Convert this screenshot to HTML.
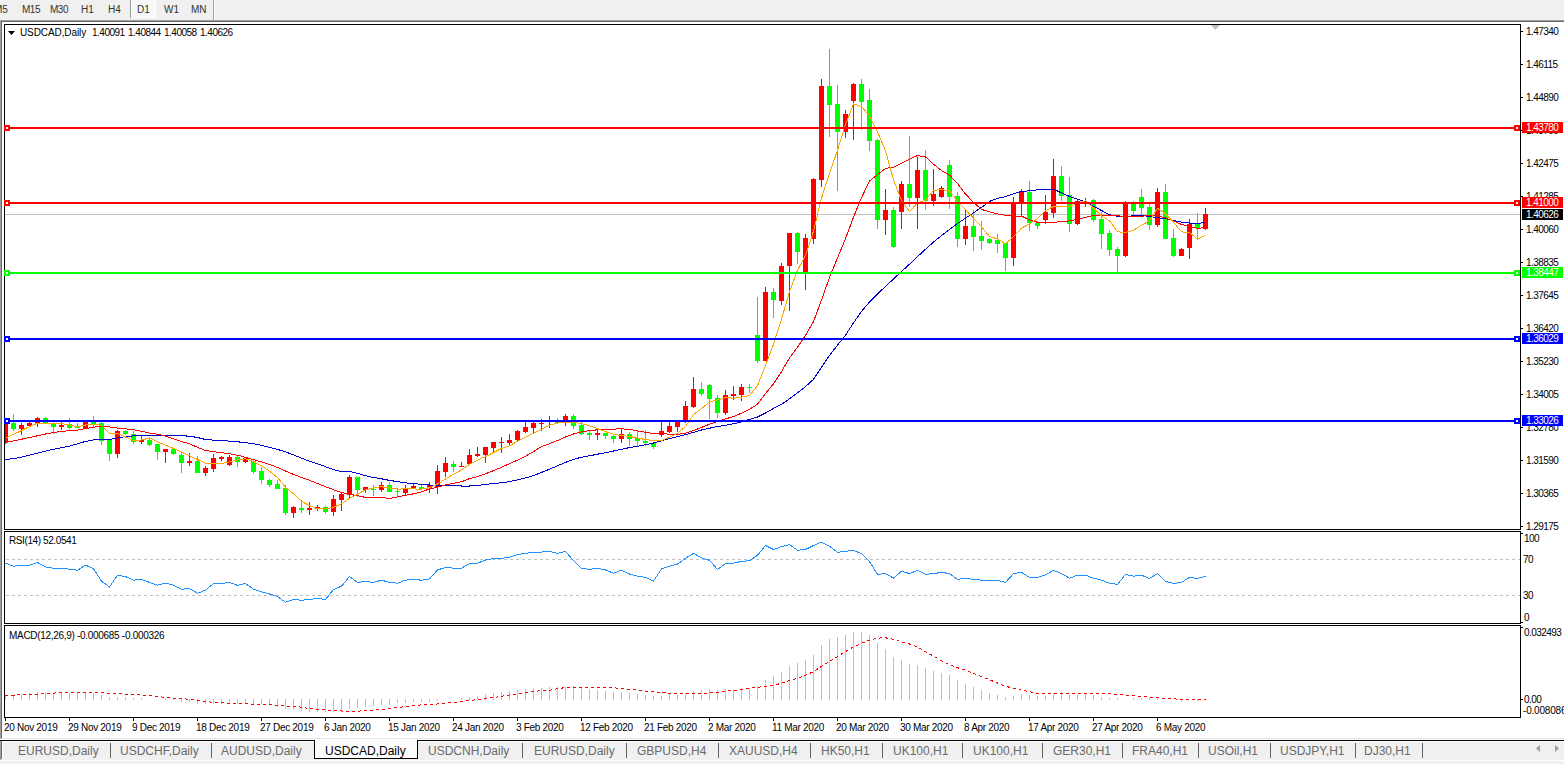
<!DOCTYPE html>
<html><head><meta charset="utf-8"><title>USDCAD,Daily</title><style>
html,body{margin:0;padding:0;width:1564px;height:764px;overflow:hidden;background:#fff;}
body{font-family:"Liberation Sans",sans-serif;}
#wrap{position:relative;width:1564px;height:764px;}
svg{position:absolute;left:0;top:0;}
.tb{position:absolute;top:0;height:20px;font-size:10px;letter-spacing:0;color:#333;line-height:20px;}
.tab{position:absolute;top:742px;height:18px;font-size:12px;color:#6a6a6a;line-height:18px;white-space:nowrap;}
</style></head><body><div id="wrap">

<svg width="1564" height="764" viewBox="0 0 1564 764" shape-rendering="crispEdges" font-family='"Liberation Sans", sans-serif'>
<rect x="0" y="0" width="1564" height="20" fill="#f0f0f0"/>
<defs><pattern id="chk" width="2" height="2" patternUnits="userSpaceOnUse"><rect width="2" height="2" fill="#f0f0f0"/><rect width="1" height="1" fill="#ffffff"/><rect x="1" y="1" width="1" height="1" fill="#ffffff"/></pattern></defs>
<rect x="131" y="0" width="24" height="18" fill="url(#chk)"/>
<rect x="130" y="0" width="1" height="18" fill="#a0a0a0"/>
<rect x="155" y="0" width="1" height="18" fill="#ffffff"/>
<rect x="131" y="17" width="25" height="1" fill="#ffffff"/>
<rect x="213" y="0" width="1" height="20" fill="#a0a0a0"/>
<rect x="214" y="0" width="1" height="20" fill="#ffffff"/>
<rect x="0" y="20" width="1564" height="1" fill="#a0a0a0"/>
<rect x="1" y="21" width="1563" height="1" fill="#696969"/>
<rect x="0" y="20" width="1" height="719" fill="#a0a0a0"/>
<rect x="1" y="21" width="1" height="717" fill="#696969"/>
<rect x="1" y="738" width="1563" height="1" fill="#e3e3e3"/>
<rect x="0" y="740" width="1564" height="24" fill="#f0f0f0"/>
<rect x="0" y="740" width="1564" height="1" fill="#000"/>
<rect x="2" y="741" width="1562" height="1" fill="#ffffff"/>
<rect x="0" y="760" width="1564" height="1" fill="#ffffff"/>
<rect x="0" y="741" width="1" height="19" fill="#a0a0a0"/>
<rect x="1" y="741" width="1" height="18" fill="#696969"/>
<rect x="2" y="741" width="1" height="18" fill="#ffffff"/>
<rect x="314" y="740" width="104" height="19" fill="#000"/>
<rect x="315" y="740" width="102" height="18" fill="#fdfdfd"/>
<rect x="110" y="743" width="1" height="15" fill="#646464"/>
<rect x="211" y="743" width="1" height="15" fill="#646464"/>
<rect x="522" y="743" width="1" height="15" fill="#646464"/>
<rect x="626" y="743" width="1" height="15" fill="#646464"/>
<rect x="718" y="743" width="1" height="15" fill="#646464"/>
<rect x="810" y="743" width="1" height="15" fill="#646464"/>
<rect x="882" y="743" width="1" height="15" fill="#646464"/>
<rect x="962" y="743" width="1" height="15" fill="#646464"/>
<rect x="1042" y="743" width="1" height="15" fill="#646464"/>
<rect x="1122" y="743" width="1" height="15" fill="#646464"/>
<rect x="1198" y="743" width="1" height="15" fill="#646464"/>
<rect x="1270" y="743" width="1" height="15" fill="#646464"/>
<rect x="1355" y="743" width="1" height="15" fill="#646464"/>
<rect x="1422" y="743" width="1" height="15" fill="#646464"/>
<path d="M1540,745 L1536,748.5 L1540,752 Z" fill="#a0a0a0" shape-rendering="auto"/>
<path d="M1555,745 L1559,748.5 L1555,752 Z" fill="#a0a0a0" shape-rendering="auto"/>
<rect x="4" y="24" width="1517" height="1" fill="#000"/>
<rect x="4" y="529" width="1517" height="1" fill="#000"/>
<rect x="4" y="24" width="1" height="506" fill="#000"/>
<rect x="1520" y="24" width="1" height="506" fill="#000"/>
<rect x="4" y="531" width="1517" height="1" fill="#000"/>
<rect x="4" y="623" width="1517" height="1" fill="#000"/>
<rect x="4" y="531" width="1" height="93" fill="#000"/>
<rect x="1520" y="531" width="1" height="93" fill="#000"/>
<rect x="4" y="625" width="1517" height="1" fill="#000"/>
<rect x="4" y="717" width="1517" height="1" fill="#000"/>
<rect x="4" y="625" width="1" height="93" fill="#000"/>
<rect x="1520" y="625" width="1" height="93" fill="#000"/>
<defs><clipPath id="cm"><rect x="5" y="25" width="1515" height="504"/></clipPath><clipPath id="cr"><rect x="5" y="532" width="1515" height="91"/></clipPath><clipPath id="cd"><rect x="5" y="626" width="1515" height="91"/></clipPath></defs>
<path d="M1211,25 L1220,25 L1215.5,30 Z" fill="#c0c0c0" shape-rendering="auto"/>
<rect x="5" y="214" width="1515" height="1" fill="#c0c0c0"/>
<g clip-path="url(#cm)">
<rect x="5" y="420" width="1" height="24" fill="#ff0000"/>
<rect x="3" y="422" width="5" height="21" fill="#ff0000"/>
<rect x="13" y="414" width="1" height="17" fill="#00ff00"/>
<rect x="11" y="423" width="5" height="6" fill="#00ff00"/>
<rect x="21" y="423" width="1" height="12" fill="#ff0000"/>
<rect x="19" y="425" width="5" height="4" fill="#ff0000"/>
<rect x="29" y="422" width="1" height="4" fill="#ff0000"/>
<rect x="27" y="423" width="5" height="3" fill="#ff0000"/>
<rect x="37" y="417" width="1" height="10" fill="#ff0000"/>
<rect x="35" y="418" width="5" height="6" fill="#ff0000"/>
<rect x="45" y="417" width="1" height="7" fill="#00ff00"/>
<rect x="43" y="418" width="5" height="6" fill="#00ff00"/>
<rect x="53" y="422" width="1" height="12" fill="#00ff00"/>
<rect x="51" y="424" width="5" height="3" fill="#00ff00"/>
<rect x="61" y="422" width="1" height="8" fill="#ff0000"/>
<rect x="59" y="425" width="5" height="2" fill="#ff0000"/>
<rect x="69" y="418" width="1" height="11" fill="#00ff00"/>
<rect x="67" y="424" width="5" height="4" fill="#00ff00"/>
<rect x="77" y="423" width="1" height="5" fill="#00ff00"/>
<rect x="75" y="426" width="5" height="2" fill="#00ff00"/>
<rect x="85" y="421" width="1" height="8" fill="#ff0000"/>
<rect x="83" y="422" width="5" height="7" fill="#ff0000"/>
<rect x="93" y="416" width="1" height="11" fill="#00ff00"/>
<rect x="91" y="422" width="5" height="2" fill="#00ff00"/>
<rect x="101" y="422" width="1" height="23" fill="#00ff00"/>
<rect x="99" y="423" width="5" height="18" fill="#00ff00"/>
<rect x="109" y="440" width="1" height="21" fill="#00ff00"/>
<rect x="107" y="440" width="5" height="14" fill="#00ff00"/>
<rect x="117" y="430" width="1" height="28" fill="#ff0000"/>
<rect x="115" y="431" width="5" height="23" fill="#ff0000"/>
<rect x="125" y="430" width="1" height="5" fill="#00ff00"/>
<rect x="123" y="431" width="5" height="3" fill="#00ff00"/>
<rect x="133" y="431" width="1" height="13" fill="#00ff00"/>
<rect x="131" y="434" width="5" height="8" fill="#00ff00"/>
<rect x="141" y="436" width="1" height="8" fill="#ff0000"/>
<rect x="139" y="440" width="5" height="2" fill="#ff0000"/>
<rect x="149" y="438" width="1" height="8" fill="#00ff00"/>
<rect x="147" y="440" width="5" height="5" fill="#00ff00"/>
<rect x="157" y="444" width="1" height="16" fill="#00ff00"/>
<rect x="155" y="444" width="5" height="8" fill="#00ff00"/>
<rect x="165" y="449" width="1" height="14" fill="#ff0000"/>
<rect x="163" y="449" width="5" height="3" fill="#ff0000"/>
<rect x="173" y="449" width="1" height="6" fill="#00ff00"/>
<rect x="171" y="449" width="5" height="5" fill="#00ff00"/>
<rect x="181" y="453" width="1" height="20" fill="#00ff00"/>
<rect x="179" y="455" width="5" height="8" fill="#00ff00"/>
<rect x="189" y="453" width="1" height="13" fill="#ff0000"/>
<rect x="187" y="461" width="5" height="2" fill="#ff0000"/>
<rect x="197" y="456" width="1" height="17" fill="#00ff00"/>
<rect x="195" y="461" width="5" height="12" fill="#00ff00"/>
<rect x="205" y="466" width="1" height="10" fill="#ff0000"/>
<rect x="203" y="468" width="5" height="5" fill="#ff0000"/>
<rect x="213" y="454" width="1" height="18" fill="#ff0000"/>
<rect x="211" y="458" width="5" height="11" fill="#ff0000"/>
<rect x="221" y="456" width="1" height="5" fill="#ff0000"/>
<rect x="219" y="457" width="5" height="2" fill="#ff0000"/>
<rect x="229" y="455" width="1" height="11" fill="#ff0000"/>
<rect x="227" y="457" width="5" height="8" fill="#ff0000"/>
<rect x="237" y="456" width="1" height="11" fill="#00ff00"/>
<rect x="235" y="457" width="5" height="5" fill="#00ff00"/>
<rect x="245" y="458" width="1" height="5" fill="#ff0000"/>
<rect x="243" y="458" width="5" height="4" fill="#ff0000"/>
<rect x="253" y="460" width="1" height="14" fill="#00ff00"/>
<rect x="251" y="461" width="5" height="11" fill="#00ff00"/>
<rect x="261" y="467" width="1" height="17" fill="#00ff00"/>
<rect x="259" y="471" width="5" height="9" fill="#00ff00"/>
<rect x="269" y="479" width="1" height="8" fill="#00ff00"/>
<rect x="267" y="480" width="5" height="5" fill="#00ff00"/>
<rect x="277" y="480" width="1" height="9" fill="#00ff00"/>
<rect x="275" y="484" width="5" height="5" fill="#00ff00"/>
<rect x="285" y="485" width="1" height="30" fill="#00ff00"/>
<rect x="283" y="488" width="5" height="25" fill="#00ff00"/>
<rect x="293" y="506" width="1" height="12" fill="#ff0000"/>
<rect x="291" y="507" width="5" height="6" fill="#ff0000"/>
<rect x="301" y="500" width="1" height="13" fill="#00ff00"/>
<rect x="299" y="508" width="5" height="2" fill="#00ff00"/>
<rect x="309" y="502" width="1" height="13" fill="#ff0000"/>
<rect x="307" y="508" width="5" height="2" fill="#ff0000"/>
<rect x="317" y="505" width="1" height="6" fill="#ff0000"/>
<rect x="315" y="507" width="5" height="2" fill="#ff0000"/>
<rect x="325" y="506" width="1" height="8" fill="#00ff00"/>
<rect x="323" y="507" width="5" height="5" fill="#00ff00"/>
<rect x="333" y="495" width="1" height="21" fill="#ff0000"/>
<rect x="331" y="499" width="5" height="13" fill="#ff0000"/>
<rect x="341" y="493" width="1" height="18" fill="#ff0000"/>
<rect x="339" y="494" width="5" height="6" fill="#ff0000"/>
<rect x="349" y="475" width="1" height="23" fill="#ff0000"/>
<rect x="347" y="477" width="5" height="18" fill="#ff0000"/>
<rect x="357" y="477" width="1" height="20" fill="#00ff00"/>
<rect x="355" y="477" width="5" height="13" fill="#00ff00"/>
<rect x="365" y="487" width="1" height="6" fill="#ff0000"/>
<rect x="363" y="487" width="5" height="3" fill="#ff0000"/>
<rect x="373" y="485" width="1" height="11" fill="#00ff00"/>
<rect x="371" y="489" width="5" height="1" fill="#00ff00"/>
<rect x="381" y="482" width="1" height="10" fill="#ff0000"/>
<rect x="379" y="485" width="5" height="5" fill="#ff0000"/>
<rect x="389" y="482" width="1" height="10" fill="#00ff00"/>
<rect x="387" y="485" width="5" height="7" fill="#00ff00"/>
<rect x="397" y="488" width="1" height="8" fill="#00ff00"/>
<rect x="395" y="491" width="5" height="1" fill="#00ff00"/>
<rect x="405" y="485" width="1" height="10" fill="#ff0000"/>
<rect x="403" y="488" width="5" height="5" fill="#ff0000"/>
<rect x="413" y="484" width="1" height="4" fill="#ff0000"/>
<rect x="411" y="486" width="5" height="2" fill="#ff0000"/>
<rect x="421" y="485" width="1" height="4" fill="#00ff00"/>
<rect x="419" y="487" width="5" height="2" fill="#00ff00"/>
<rect x="429" y="482" width="1" height="11" fill="#ff0000"/>
<rect x="427" y="485" width="5" height="3" fill="#ff0000"/>
<rect x="437" y="465" width="1" height="29" fill="#ff0000"/>
<rect x="435" y="471" width="5" height="16" fill="#ff0000"/>
<rect x="445" y="457" width="1" height="20" fill="#ff0000"/>
<rect x="443" y="463" width="5" height="9" fill="#ff0000"/>
<rect x="453" y="461" width="1" height="11" fill="#00ff00"/>
<rect x="451" y="464" width="5" height="3" fill="#00ff00"/>
<rect x="461" y="462" width="1" height="5" fill="#ff0000"/>
<rect x="459" y="466" width="5" height="1" fill="#ff0000"/>
<rect x="469" y="449" width="1" height="15" fill="#ff0000"/>
<rect x="467" y="455" width="5" height="9" fill="#ff0000"/>
<rect x="477" y="447" width="1" height="10" fill="#ff0000"/>
<rect x="475" y="454" width="5" height="2" fill="#ff0000"/>
<rect x="485" y="447" width="1" height="16" fill="#ff0000"/>
<rect x="483" y="447" width="5" height="8" fill="#ff0000"/>
<rect x="493" y="442" width="1" height="10" fill="#ff0000"/>
<rect x="491" y="442" width="5" height="6" fill="#ff0000"/>
<rect x="501" y="437" width="1" height="16" fill="#ff0000"/>
<rect x="499" y="442" width="5" height="1" fill="#ff0000"/>
<rect x="509" y="434" width="1" height="11" fill="#ff0000"/>
<rect x="507" y="440" width="5" height="3" fill="#ff0000"/>
<rect x="517" y="430" width="1" height="11" fill="#ff0000"/>
<rect x="515" y="431" width="5" height="9" fill="#ff0000"/>
<rect x="525" y="422" width="1" height="11" fill="#ff0000"/>
<rect x="523" y="427" width="5" height="5" fill="#ff0000"/>
<rect x="533" y="422" width="1" height="11" fill="#ff0000"/>
<rect x="531" y="423" width="5" height="5" fill="#ff0000"/>
<rect x="541" y="419" width="1" height="12" fill="#ff0000"/>
<rect x="539" y="423" width="5" height="1" fill="#ff0000"/>
<rect x="549" y="416" width="1" height="12" fill="#ff0000"/>
<rect x="547" y="421" width="5" height="1" fill="#ff0000"/>
<rect x="557" y="418" width="1" height="5" fill="#00ff00"/>
<rect x="555" y="420" width="5" height="3" fill="#00ff00"/>
<rect x="565" y="414" width="1" height="12" fill="#ff0000"/>
<rect x="563" y="416" width="5" height="5" fill="#ff0000"/>
<rect x="573" y="414" width="1" height="15" fill="#00ff00"/>
<rect x="571" y="416" width="5" height="10" fill="#00ff00"/>
<rect x="581" y="422" width="1" height="13" fill="#00ff00"/>
<rect x="579" y="425" width="5" height="9" fill="#00ff00"/>
<rect x="589" y="431" width="1" height="9" fill="#00ff00"/>
<rect x="587" y="433" width="5" height="2" fill="#00ff00"/>
<rect x="597" y="429" width="1" height="11" fill="#ff0000"/>
<rect x="595" y="433" width="5" height="2" fill="#ff0000"/>
<rect x="605" y="433" width="1" height="6" fill="#00ff00"/>
<rect x="603" y="433" width="5" height="3" fill="#00ff00"/>
<rect x="613" y="435" width="1" height="8" fill="#00ff00"/>
<rect x="611" y="436" width="5" height="3" fill="#00ff00"/>
<rect x="621" y="428" width="1" height="15" fill="#ff0000"/>
<rect x="619" y="434" width="5" height="5" fill="#ff0000"/>
<rect x="629" y="432" width="1" height="14" fill="#00ff00"/>
<rect x="627" y="434" width="5" height="5" fill="#00ff00"/>
<rect x="637" y="431" width="1" height="16" fill="#00ff00"/>
<rect x="635" y="438" width="5" height="3" fill="#00ff00"/>
<rect x="645" y="430" width="1" height="16" fill="#00ff00"/>
<rect x="643" y="441" width="5" height="2" fill="#00ff00"/>
<rect x="653" y="443" width="1" height="6" fill="#00ff00"/>
<rect x="651" y="443" width="5" height="4" fill="#00ff00"/>
<rect x="661" y="422" width="1" height="15" fill="#ff0000"/>
<rect x="659" y="431" width="5" height="4" fill="#ff0000"/>
<rect x="669" y="422" width="1" height="11" fill="#ff0000"/>
<rect x="667" y="426" width="5" height="6" fill="#ff0000"/>
<rect x="677" y="422" width="1" height="10" fill="#ff0000"/>
<rect x="675" y="422" width="5" height="5" fill="#ff0000"/>
<rect x="685" y="401" width="1" height="22" fill="#ff0000"/>
<rect x="683" y="406" width="5" height="15" fill="#ff0000"/>
<rect x="693" y="377" width="1" height="31" fill="#ff0000"/>
<rect x="691" y="389" width="5" height="18" fill="#ff0000"/>
<rect x="701" y="382" width="1" height="14" fill="#00ff00"/>
<rect x="699" y="389" width="5" height="5" fill="#00ff00"/>
<rect x="709" y="384" width="1" height="35" fill="#00ff00"/>
<rect x="707" y="385" width="5" height="14" fill="#00ff00"/>
<rect x="717" y="395" width="1" height="23" fill="#00ff00"/>
<rect x="715" y="398" width="5" height="15" fill="#00ff00"/>
<rect x="725" y="390" width="1" height="25" fill="#ff0000"/>
<rect x="723" y="395" width="5" height="18" fill="#ff0000"/>
<rect x="733" y="386" width="1" height="14" fill="#ff0000"/>
<rect x="731" y="394" width="5" height="2" fill="#ff0000"/>
<rect x="741" y="384" width="1" height="17" fill="#ff0000"/>
<rect x="739" y="387" width="5" height="8" fill="#ff0000"/>
<rect x="749" y="384" width="1" height="9" fill="#00ff00"/>
<rect x="747" y="387" width="5" height="1" fill="#00ff00"/>
<rect x="757" y="297" width="1" height="66" fill="#00ff00"/>
<rect x="755" y="335" width="5" height="26" fill="#00ff00"/>
<rect x="765" y="287" width="1" height="74" fill="#ff0000"/>
<rect x="763" y="292" width="5" height="69" fill="#ff0000"/>
<rect x="773" y="288" width="1" height="30" fill="#00ff00"/>
<rect x="771" y="292" width="5" height="8" fill="#00ff00"/>
<rect x="781" y="263" width="1" height="42" fill="#ff0000"/>
<rect x="779" y="266" width="5" height="35" fill="#ff0000"/>
<rect x="789" y="233" width="1" height="78" fill="#ff0000"/>
<rect x="787" y="233" width="5" height="33" fill="#ff0000"/>
<rect x="797" y="232" width="1" height="32" fill="#00ff00"/>
<rect x="795" y="233" width="5" height="19" fill="#00ff00"/>
<rect x="805" y="234" width="1" height="56" fill="#ff0000"/>
<rect x="803" y="238" width="5" height="34" fill="#ff0000"/>
<rect x="813" y="178" width="1" height="66" fill="#ff0000"/>
<rect x="811" y="179" width="5" height="60" fill="#ff0000"/>
<rect x="821" y="79" width="1" height="108" fill="#ff0000"/>
<rect x="819" y="86" width="5" height="94" fill="#ff0000"/>
<rect x="829" y="49" width="1" height="88" fill="#00ff00"/>
<rect x="827" y="86" width="5" height="19" fill="#00ff00"/>
<rect x="837" y="85" width="1" height="106" fill="#00ff00"/>
<rect x="835" y="104" width="5" height="28" fill="#00ff00"/>
<rect x="845" y="110" width="1" height="28" fill="#ff0000"/>
<rect x="843" y="114" width="5" height="18" fill="#ff0000"/>
<rect x="853" y="83" width="1" height="57" fill="#ff0000"/>
<rect x="851" y="84" width="5" height="17" fill="#ff0000"/>
<rect x="861" y="79" width="1" height="51" fill="#00ff00"/>
<rect x="859" y="84" width="5" height="18" fill="#00ff00"/>
<rect x="869" y="89" width="1" height="62" fill="#00ff00"/>
<rect x="867" y="100" width="5" height="41" fill="#00ff00"/>
<rect x="877" y="139" width="1" height="90" fill="#00ff00"/>
<rect x="875" y="140" width="5" height="80" fill="#00ff00"/>
<rect x="885" y="189" width="1" height="46" fill="#ff0000"/>
<rect x="883" y="210" width="5" height="10" fill="#ff0000"/>
<rect x="893" y="207" width="1" height="41" fill="#00ff00"/>
<rect x="891" y="210" width="5" height="37" fill="#00ff00"/>
<rect x="901" y="181" width="1" height="48" fill="#ff0000"/>
<rect x="899" y="184" width="5" height="28" fill="#ff0000"/>
<rect x="909" y="136" width="1" height="71" fill="#00ff00"/>
<rect x="907" y="184" width="5" height="14" fill="#00ff00"/>
<rect x="917" y="157" width="1" height="72" fill="#ff0000"/>
<rect x="915" y="170" width="5" height="28" fill="#ff0000"/>
<rect x="925" y="150" width="1" height="60" fill="#00ff00"/>
<rect x="923" y="170" width="5" height="31" fill="#00ff00"/>
<rect x="933" y="169" width="1" height="37" fill="#ff0000"/>
<rect x="931" y="194" width="5" height="7" fill="#ff0000"/>
<rect x="941" y="186" width="1" height="12" fill="#ff0000"/>
<rect x="939" y="188" width="5" height="9" fill="#ff0000"/>
<rect x="949" y="160" width="1" height="49" fill="#00ff00"/>
<rect x="947" y="165" width="5" height="32" fill="#00ff00"/>
<rect x="957" y="192" width="1" height="55" fill="#00ff00"/>
<rect x="955" y="196" width="5" height="43" fill="#00ff00"/>
<rect x="965" y="210" width="1" height="35" fill="#ff0000"/>
<rect x="963" y="226" width="5" height="13" fill="#ff0000"/>
<rect x="973" y="210" width="1" height="41" fill="#00ff00"/>
<rect x="971" y="226" width="5" height="11" fill="#00ff00"/>
<rect x="981" y="221" width="1" height="29" fill="#00ff00"/>
<rect x="979" y="236" width="5" height="5" fill="#00ff00"/>
<rect x="989" y="238" width="1" height="6" fill="#00ff00"/>
<rect x="987" y="239" width="5" height="4" fill="#00ff00"/>
<rect x="997" y="234" width="1" height="19" fill="#00ff00"/>
<rect x="995" y="240" width="5" height="4" fill="#00ff00"/>
<rect x="1005" y="243" width="1" height="28" fill="#00ff00"/>
<rect x="1003" y="243" width="5" height="15" fill="#00ff00"/>
<rect x="1013" y="197" width="1" height="69" fill="#ff0000"/>
<rect x="1011" y="203" width="5" height="55" fill="#ff0000"/>
<rect x="1021" y="189" width="1" height="28" fill="#ff0000"/>
<rect x="1019" y="192" width="5" height="10" fill="#ff0000"/>
<rect x="1029" y="181" width="1" height="50" fill="#00ff00"/>
<rect x="1027" y="192" width="5" height="31" fill="#00ff00"/>
<rect x="1037" y="221" width="1" height="8" fill="#00ff00"/>
<rect x="1035" y="223" width="5" height="3" fill="#00ff00"/>
<rect x="1045" y="195" width="1" height="29" fill="#ff0000"/>
<rect x="1043" y="212" width="5" height="8" fill="#ff0000"/>
<rect x="1053" y="159" width="1" height="59" fill="#ff0000"/>
<rect x="1051" y="176" width="5" height="37" fill="#ff0000"/>
<rect x="1061" y="166" width="1" height="35" fill="#00ff00"/>
<rect x="1059" y="176" width="5" height="20" fill="#00ff00"/>
<rect x="1069" y="177" width="1" height="55" fill="#00ff00"/>
<rect x="1067" y="195" width="5" height="29" fill="#00ff00"/>
<rect x="1077" y="200" width="1" height="25" fill="#ff0000"/>
<rect x="1075" y="201" width="5" height="23" fill="#ff0000"/>
<rect x="1085" y="198" width="1" height="9" fill="#ff0000"/>
<rect x="1083" y="202" width="5" height="2" fill="#ff0000"/>
<rect x="1093" y="199" width="1" height="23" fill="#00ff00"/>
<rect x="1091" y="200" width="5" height="20" fill="#00ff00"/>
<rect x="1101" y="212" width="1" height="37" fill="#00ff00"/>
<rect x="1099" y="219" width="5" height="15" fill="#00ff00"/>
<rect x="1109" y="230" width="1" height="26" fill="#00ff00"/>
<rect x="1107" y="233" width="5" height="17" fill="#00ff00"/>
<rect x="1117" y="247" width="1" height="25" fill="#00ff00"/>
<rect x="1115" y="249" width="5" height="7" fill="#00ff00"/>
<rect x="1125" y="201" width="1" height="56" fill="#ff0000"/>
<rect x="1123" y="203" width="5" height="53" fill="#ff0000"/>
<rect x="1133" y="201" width="1" height="14" fill="#00ff00"/>
<rect x="1131" y="204" width="5" height="7" fill="#00ff00"/>
<rect x="1141" y="189" width="1" height="29" fill="#00ff00"/>
<rect x="1139" y="197" width="5" height="11" fill="#00ff00"/>
<rect x="1149" y="204" width="1" height="26" fill="#00ff00"/>
<rect x="1147" y="207" width="5" height="18" fill="#00ff00"/>
<rect x="1157" y="188" width="1" height="39" fill="#ff0000"/>
<rect x="1155" y="192" width="5" height="33" fill="#ff0000"/>
<rect x="1165" y="184" width="1" height="55" fill="#00ff00"/>
<rect x="1163" y="192" width="5" height="47" fill="#00ff00"/>
<rect x="1173" y="229" width="1" height="28" fill="#00ff00"/>
<rect x="1171" y="238" width="5" height="18" fill="#00ff00"/>
<rect x="1181" y="248" width="1" height="8" fill="#ff0000"/>
<rect x="1179" y="249" width="5" height="7" fill="#ff0000"/>
<rect x="1189" y="219" width="1" height="40" fill="#ff0000"/>
<rect x="1187" y="224" width="5" height="24" fill="#ff0000"/>
<rect x="1197" y="213" width="1" height="26" fill="#00ff00"/>
<rect x="1195" y="224" width="5" height="4" fill="#00ff00"/>
<rect x="1205" y="208" width="1" height="22" fill="#ff0000"/>
<rect x="1203" y="214" width="5" height="15" fill="#ff0000"/>
</g>
<g clip-path="url(#cm)">
<polyline points="5.5,459.5 13.5,458.7 21.5,457.1 29.5,455.1 37.5,453.1 45.5,451.1 53.5,449.3 61.5,447.7 69.5,446.1 77.5,443.8 85.5,441.4 93.5,439.9 101.5,439.7 109.5,439.5 117.5,438.0 125.5,436.5 133.5,435.9 141.5,435.5 149.5,435.4 157.5,435.3 165.5,435.4 173.5,435.5 181.5,435.7 189.5,436.2 197.5,437.5 205.5,439.5 213.5,440.1 221.5,440.6 229.5,441.1 237.5,441.8 245.5,442.6 253.5,443.7 261.5,445.4 269.5,447.4 277.5,449.4 285.5,451.9 293.5,454.9 301.5,458.1 309.5,461.3 317.5,463.8 325.5,466.7 333.5,469.6 341.5,471.5 349.5,471.5 357.5,473.4 365.5,475.6 373.5,477.5 381.5,478.8 389.5,480.4 397.5,481.6 405.5,482.8 413.5,483.7 421.5,484.3 429.5,485.0 437.5,485.0 445.5,485.0 453.5,485.7 461.5,486.0 469.5,486.0 477.5,485.4 485.5,484.4 493.5,483.6 501.5,482.7 509.5,481.7 517.5,479.8 525.5,478.0 533.5,475.6 541.5,472.4 549.5,469.2 557.5,465.8 565.5,462.4 573.5,459.4 581.5,457.2 589.5,455.8 597.5,454.2 605.5,452.7 613.5,451.0 621.5,449.3 629.5,447.6 637.5,446.2 645.5,444.8 653.5,443.0 661.5,440.8 669.5,438.6 677.5,436.6 685.5,434.6 693.5,432.4 701.5,430.0 709.5,428.2 717.5,426.6 725.5,425.2 733.5,423.8 741.5,421.8 749.5,419.4 757.5,417.0 765.5,413.0 773.5,408.4 781.5,404.4 789.5,398.9 797.5,392.8 805.5,386.6 813.5,379.4 821.5,367.3 829.5,355.4 837.5,345.2 845.5,335.2 853.5,322.9 861.5,311.3 869.5,302.1 877.5,293.8 885.5,286.5 893.5,279.0 901.5,271.5 909.5,264.2 917.5,256.7 925.5,249.2 933.5,242.1 941.5,235.6 949.5,229.4 957.5,223.5 965.5,218.2 973.5,212.8 981.5,207.4 989.5,201.4 997.5,198.4 1005.5,196.6 1013.5,193.9 1021.5,191.4 1029.5,190.8 1037.5,189.8 1045.5,189.2 1053.5,189.2 1061.5,192.9 1069.5,196.4 1077.5,199.2 1085.5,201.8 1093.5,206.2 1101.5,210.5 1109.5,214.7 1117.5,216.4 1125.5,216.2 1133.5,215.9 1141.5,215.6 1149.5,216.4 1157.5,217.8 1165.5,218.6 1173.5,220.6 1181.5,222.1 1189.5,223.1 1197.5,223.4 1205.5,222.5" fill="none" stroke="#0000cd" stroke-width="1" />
<polyline points="5.5,442.5 13.5,440.9 21.5,439.2 29.5,437.6 37.5,435.8 45.5,434.0 53.5,432.5 61.5,431.5 69.5,430.7 77.5,430.2 85.5,428.6 93.5,427.1 101.5,426.6 109.5,427.0 117.5,428.1 125.5,428.8 133.5,429.7 141.5,431.3 149.5,433.1 157.5,434.2 165.5,436.1 173.5,438.7 181.5,441.4 189.5,443.9 197.5,447.2 205.5,450.6 213.5,451.6 221.5,452.7 229.5,453.8 237.5,455.2 245.5,457.3 253.5,459.6 261.5,461.9 269.5,464.4 277.5,467.5 285.5,471.0 293.5,474.4 301.5,477.5 309.5,480.3 317.5,483.5 325.5,486.7 333.5,489.7 341.5,492.4 349.5,494.4 357.5,495.6 365.5,497.5 373.5,497.5 381.5,497.5 389.5,498.4 397.5,497.0 405.5,495.4 413.5,493.8 421.5,491.8 429.5,488.9 437.5,487.2 445.5,485.0 453.5,483.2 461.5,481.8 469.5,478.6 477.5,476.6 485.5,473.8 493.5,470.6 501.5,467.3 509.5,463.7 517.5,460.1 525.5,456.2 533.5,451.6 541.5,446.5 549.5,443.7 557.5,440.5 565.5,437.0 573.5,434.0 581.5,431.9 589.5,430.6 597.5,429.8 605.5,429.5 613.5,429.1 621.5,428.8 629.5,429.4 637.5,430.9 645.5,432.2 653.5,433.6 661.5,433.8 669.5,434.1 677.5,434.4 685.5,433.1 693.5,430.6 701.5,427.4 709.5,424.2 717.5,421.4 725.5,418.9 733.5,416.6 741.5,413.2 749.5,409.2 757.5,404.3 765.5,393.4 773.5,383.8 781.5,371.6 789.5,357.9 797.5,347.2 805.5,335.4 813.5,321.6 821.5,300.1 829.5,277.4 837.5,258.0 845.5,238.7 853.5,217.1 861.5,197.8 869.5,181.0 877.5,174.6 885.5,168.4 893.5,167.2 901.5,163.2 909.5,159.2 917.5,155.6 925.5,156.9 933.5,164.2 941.5,170.6 949.5,175.1 957.5,183.5 965.5,194.0 973.5,202.5 981.5,209.4 989.5,211.8 997.5,213.9 1005.5,215.3 1013.5,216.3 1021.5,216.0 1029.5,219.9 1037.5,222.3 1045.5,223.1 1053.5,222.3 1061.5,221.7 1069.5,220.8 1077.5,219.4 1085.5,217.4 1093.5,215.5 1101.5,215.5 1109.5,215.5 1117.5,215.9 1125.5,216.3 1133.5,216.5 1141.5,216.2 1149.5,215.5 1157.5,215.9 1165.5,217.9 1173.5,221.1 1181.5,224.4 1189.5,226.7 1197.5,228.4 1205.5,227.5" fill="none" stroke="#ff0000" stroke-width="1" />
<polyline points="5.5,438.3 13.5,434.4 21.5,430.5 29.5,426.6 37.5,423.1 45.5,424.0 53.5,423.8 61.5,423.6 69.5,424.9 77.5,426.9 85.5,425.0 93.5,424.0 101.5,425.5 109.5,433.5 117.5,433.5 125.5,437.0 133.5,440.5 141.5,440.0 149.5,438.0 157.5,441.8 165.5,445.2 173.5,448.4 181.5,452.0 189.5,455.8 197.5,459.5 205.5,463.1 213.5,463.9 221.5,463.4 229.5,461.9 237.5,460.0 245.5,458.7 253.5,461.5 261.5,465.9 269.5,471.1 277.5,477.5 285.5,487.4 293.5,493.8 301.5,501.3 309.5,505.7 317.5,508.6 325.5,508.9 333.5,507.3 341.5,503.9 349.5,498.4 357.5,494.2 365.5,489.9 373.5,487.8 381.5,486.7 389.5,487.9 397.5,489.1 405.5,488.9 413.5,488.9 421.5,489.2 429.5,487.6 437.5,484.1 445.5,479.0 453.5,474.3 461.5,469.9 469.5,464.2 477.5,460.1 485.5,456.7 493.5,452.5 501.5,448.5 509.5,445.7 517.5,441.4 525.5,437.2 533.5,433.2 541.5,429.2 549.5,425.2 557.5,423.1 565.5,422.2 573.5,422.4 581.5,423.4 589.5,425.9 597.5,428.6 605.5,431.7 613.5,434.2 621.5,435.6 629.5,436.4 637.5,438.0 645.5,439.6 653.5,440.5 661.5,440.5 669.5,437.2 677.5,433.2 685.5,426.5 693.5,414.5 701.5,408.7 709.5,401.9 717.5,400.0 725.5,397.5 733.5,398.3 741.5,397.1 749.5,395.6 757.5,385.7 765.5,365.6 773.5,344.2 781.5,319.1 789.5,291.7 797.5,270.2 805.5,255.4 813.5,231.1 821.5,198.0 829.5,173.5 837.5,150.2 845.5,124.7 853.5,104.0 861.5,106.4 869.5,115.8 877.5,131.8 885.5,150.9 893.5,179.9 901.5,200.5 909.5,211.5 917.5,203.0 925.5,200.1 933.5,190.2 941.5,189.8 949.5,190.5 957.5,201.5 965.5,209.6 973.5,218.3 981.5,226.8 989.5,236.4 997.5,239.0 1005.5,243.7 1013.5,236.8 1021.5,228.1 1029.5,223.8 1037.5,218.8 1045.5,210.7 1053.5,206.5 1061.5,206.5 1069.5,206.5 1077.5,203.1 1085.5,200.8 1093.5,207.8 1101.5,215.9 1109.5,220.7 1117.5,231.8 1125.5,232.5 1133.5,230.2 1141.5,225.3 1149.5,220.8 1157.5,208.2 1165.5,213.8 1173.5,222.2 1181.5,231.9 1189.5,232.5 1197.5,239.0 1205.5,235.5" fill="none" stroke="#ffa500" stroke-width="1" />
</g>
<rect x="5" y="127" width="1515" height="2" fill="#ff0000"/>
<rect x="4" y="125" width="6" height="6" fill="#ff0000"/>
<rect x="6" y="127" width="2" height="2" fill="#fff"/>
<rect x="1514" y="125" width="6" height="6" fill="#ff0000"/>
<rect x="1516" y="127" width="2" height="2" fill="#fff"/>
<rect x="5" y="202" width="1515" height="2" fill="#ff0000"/>
<rect x="4" y="200" width="6" height="6" fill="#ff0000"/>
<rect x="6" y="202" width="2" height="2" fill="#fff"/>
<rect x="1514" y="200" width="6" height="6" fill="#ff0000"/>
<rect x="1516" y="202" width="2" height="2" fill="#fff"/>
<rect x="5" y="272" width="1515" height="2" fill="#00ff00"/>
<rect x="4" y="270" width="6" height="6" fill="#00ff00"/>
<rect x="6" y="272" width="2" height="2" fill="#fff"/>
<rect x="1514" y="270" width="6" height="6" fill="#00ff00"/>
<rect x="1516" y="272" width="2" height="2" fill="#fff"/>
<rect x="5" y="338" width="1515" height="2" fill="#0000ff"/>
<rect x="4" y="336" width="6" height="6" fill="#0000ff"/>
<rect x="6" y="338" width="2" height="2" fill="#fff"/>
<rect x="1514" y="336" width="6" height="6" fill="#0000ff"/>
<rect x="1516" y="338" width="2" height="2" fill="#fff"/>
<rect x="5" y="420" width="1515" height="2" fill="#0000ff"/>
<rect x="4" y="418" width="6" height="6" fill="#0000ff"/>
<rect x="6" y="420" width="2" height="2" fill="#fff"/>
<rect x="1514" y="418" width="6" height="6" fill="#0000ff"/>
<rect x="1516" y="420" width="2" height="2" fill="#fff"/>
<rect x="1521" y="31" width="2" height="1" fill="#000"/>
<rect x="1521" y="64" width="2" height="1" fill="#000"/>
<rect x="1521" y="97" width="2" height="1" fill="#000"/>
<rect x="1521" y="130" width="2" height="1" fill="#000"/>
<rect x="1521" y="163" width="2" height="1" fill="#000"/>
<rect x="1521" y="196" width="2" height="1" fill="#000"/>
<rect x="1521" y="229" width="2" height="1" fill="#000"/>
<rect x="1521" y="262" width="2" height="1" fill="#000"/>
<rect x="1521" y="295" width="2" height="1" fill="#000"/>
<rect x="1521" y="328" width="2" height="1" fill="#000"/>
<rect x="1521" y="361" width="2" height="1" fill="#000"/>
<rect x="1521" y="394" width="2" height="1" fill="#000"/>
<rect x="1521" y="427" width="2" height="1" fill="#000"/>
<rect x="1521" y="460" width="2" height="1" fill="#000"/>
<rect x="1521" y="493" width="2" height="1" fill="#000"/>
<rect x="1521" y="526" width="2" height="1" fill="#000"/>
<text x="1526" y="35" font-size="10" letter-spacing="-0.56" fill="#000">1.47340</text>
<text x="1526" y="68" font-size="10" letter-spacing="-0.56" fill="#000">1.46115</text>
<text x="1526" y="101" font-size="10" letter-spacing="-0.56" fill="#000">1.44890</text>
<text x="1526" y="134" font-size="10" letter-spacing="-0.56" fill="#000">1.43705</text>
<text x="1526" y="167" font-size="10" letter-spacing="-0.56" fill="#000">1.42475</text>
<text x="1526" y="200" font-size="10" letter-spacing="-0.56" fill="#000">1.41285</text>
<text x="1526" y="233" font-size="10" letter-spacing="-0.56" fill="#000">1.40060</text>
<text x="1526" y="266" font-size="10" letter-spacing="-0.56" fill="#000">1.38835</text>
<text x="1526" y="299" font-size="10" letter-spacing="-0.56" fill="#000">1.37645</text>
<text x="1526" y="332" font-size="10" letter-spacing="-0.56" fill="#000">1.36420</text>
<text x="1526" y="365" font-size="10" letter-spacing="-0.56" fill="#000">1.35230</text>
<text x="1526" y="398" font-size="10" letter-spacing="-0.56" fill="#000">1.34005</text>
<text x="1526" y="431" font-size="10" letter-spacing="-0.56" fill="#000">1.32780</text>
<text x="1526" y="464" font-size="10" letter-spacing="-0.56" fill="#000">1.31590</text>
<text x="1526" y="497" font-size="10" letter-spacing="-0.56" fill="#000">1.30365</text>
<text x="1526" y="530" font-size="10" letter-spacing="-0.56" fill="#000">1.29175</text>
<rect x="1522" y="122" width="41" height="11" fill="#ff0000"/>
<text x="1526" y="131" font-size="10" letter-spacing="-0.56" fill="#fff">1.43780</text>
<rect x="1522" y="197" width="41" height="11" fill="#ff0000"/>
<text x="1526" y="206" font-size="10" letter-spacing="-0.56" fill="#fff">1.41000</text>
<rect x="1522" y="209" width="41" height="11" fill="#000000"/>
<text x="1526" y="218" font-size="10" letter-spacing="-0.56" fill="#fff">1.40626</text>
<rect x="1522" y="267" width="41" height="11" fill="#00ff00"/>
<text x="1526" y="276" font-size="10" letter-spacing="-0.56" fill="#fff">1.38447</text>
<rect x="1522" y="333" width="41" height="11" fill="#0000ff"/>
<text x="1526" y="342" font-size="10" letter-spacing="-0.56" fill="#fff">1.36029</text>
<rect x="1522" y="415" width="41" height="11" fill="#0000ff"/>
<text x="1526" y="424" font-size="10" letter-spacing="-0.56" fill="#fff">1.33026</text>
<path d="M8,31 L15,31 L11.5,35 Z" fill="#000" shape-rendering="auto"/>
<text x="20" y="36" font-size="10" fill="#000" letter-spacing="-0.1">USDCAD,Daily</text>
<text x="92" y="36" font-size="10" fill="#000" letter-spacing="-0.5">1.40091</text>
<text x="128" y="36" font-size="10" fill="#000" letter-spacing="-0.5">1.40844</text>
<text x="164" y="36" font-size="10" fill="#000" letter-spacing="-0.5">1.40058</text>
<text x="200" y="36" font-size="10" fill="#000" letter-spacing="-0.5">1.40626</text>
<g clip-path="url(#cr)">
<line x1="6" y1="559.5" x2="1520" y2="559.5" stroke="#c0c0c0" stroke-width="1" stroke-dasharray="3 3"/>
<line x1="6" y1="595.5" x2="1520" y2="595.5" stroke="#c0c0c0" stroke-width="1" stroke-dasharray="3 3"/>
<polyline points="5.5,563.2 13.5,566.2 21.5,565.2 29.5,565.2 37.5,562.4 45.5,566.9 53.5,568.2 61.5,568.2 69.5,569.2 77.5,570.2 85.5,565.2 93.5,568.6 101.5,581.2 109.5,587.0 117.5,575.2 125.5,576.6 133.5,580.2 141.5,579.4 149.5,582.4 157.5,585.2 165.5,583.2 173.5,585.2 181.5,589.2 189.5,588.5 197.5,593.2 205.5,590.2 213.5,583.5 221.5,583.5 229.5,582.4 237.5,585.4 245.5,583.5 253.5,589.2 261.5,591.8 269.5,594.0 277.5,596.5 285.5,602.3 293.5,599.5 301.5,600.3 309.5,599.5 317.5,598.5 325.5,599.5 333.5,589.5 341.5,586.2 349.5,576.5 357.5,582.4 365.5,581.5 373.5,582.4 381.5,580.2 389.5,582.4 397.5,583.2 405.5,580.2 413.5,579.4 421.5,580.2 429.5,579.0 437.5,570.0 445.5,567.4 453.5,568.2 461.5,568.2 469.5,563.6 477.5,563.2 485.5,560.0 493.5,558.6 501.5,558.4 509.5,557.2 517.5,554.6 525.5,553.3 533.5,552.4 541.5,552.1 549.5,551.3 557.5,553.3 565.5,551.3 573.5,560.8 581.5,568.2 589.5,569.4 597.5,568.2 605.5,570.0 613.5,573.2 621.5,570.2 629.5,574.0 637.5,576.2 645.5,577.4 653.5,581.0 661.5,569.0 669.5,566.2 677.5,564.1 685.5,558.3 693.5,553.3 701.5,557.9 709.5,560.3 717.5,569.4 725.5,563.6 733.5,563.2 741.5,561.3 749.5,560.8 757.5,555.3 765.5,545.5 773.5,549.5 781.5,546.6 789.5,544.5 797.5,550.3 805.5,549.5 813.5,545.5 821.5,542.1 829.5,546.1 837.5,552.4 845.5,551.3 853.5,550.4 861.5,553.6 869.5,561.6 877.5,574.4 885.5,573.6 893.5,578.2 901.5,571.2 909.5,573.6 917.5,570.4 925.5,574.4 933.5,573.6 941.5,572.4 949.5,573.6 957.5,579.4 965.5,578.2 973.5,579.4 981.5,580.2 989.5,580.2 997.5,580.3 1005.5,582.4 1013.5,573.6 1021.5,572.4 1029.5,577.4 1037.5,577.4 1045.5,574.9 1053.5,570.2 1061.5,573.6 1069.5,578.2 1077.5,575.2 1085.5,575.2 1093.5,578.2 1101.5,580.2 1109.5,583.2 1117.5,584.4 1125.5,574.4 1133.5,576.2 1141.5,575.2 1149.5,578.5 1157.5,573.6 1165.5,581.2 1173.5,583.5 1181.5,582.4 1189.5,577.4 1197.5,578.5 1205.5,576.2" fill="none" stroke="#1e90ff" stroke-width="1" />
</g>
<text x="9" y="544" font-size="10" fill="#000" letter-spacing="-0.4">RSI(14) 52.0541</text>
<rect x="1521" y="533" width="2" height="1" fill="#000"/>
<rect x="1521" y="622" width="2" height="1" fill="#000"/>
<text x="1524" y="542" font-size="10" fill="#000" letter-spacing="-0.56">100</text>
<text x="1523" y="563" font-size="10" fill="#000" letter-spacing="-0.56">70</text>
<text x="1523" y="599" font-size="10" fill="#000" letter-spacing="-0.56">30</text>
<text x="1524" y="621" font-size="10" fill="#000" letter-spacing="-0.56">0</text>
<g clip-path="url(#cd)">
<rect x="5" y="695" width="1" height="5" fill="#c0c0c0"/>
<rect x="13" y="695" width="1" height="5" fill="#c0c0c0"/>
<rect x="21" y="694" width="1" height="6" fill="#c0c0c0"/>
<rect x="29" y="693" width="1" height="7" fill="#c0c0c0"/>
<rect x="37" y="692" width="1" height="8" fill="#c0c0c0"/>
<rect x="45" y="692" width="1" height="8" fill="#c0c0c0"/>
<rect x="53" y="693" width="1" height="7" fill="#c0c0c0"/>
<rect x="61" y="692" width="1" height="8" fill="#c0c0c0"/>
<rect x="69" y="693" width="1" height="7" fill="#c0c0c0"/>
<rect x="77" y="693" width="1" height="7" fill="#c0c0c0"/>
<rect x="85" y="693" width="1" height="7" fill="#c0c0c0"/>
<rect x="93" y="693" width="1" height="7" fill="#c0c0c0"/>
<rect x="101" y="695" width="1" height="5" fill="#c0c0c0"/>
<rect x="109" y="697" width="1" height="3" fill="#c0c0c0"/>
<rect x="117" y="697" width="1" height="3" fill="#c0c0c0"/>
<rect x="125" y="697" width="1" height="3" fill="#c0c0c0"/>
<rect x="133" y="698" width="1" height="2" fill="#c0c0c0"/>
<rect x="141" y="698" width="1" height="2" fill="#c0c0c0"/>
<rect x="165" y="699" width="1" height="1" fill="#c0c0c0"/>
<rect x="173" y="699" width="1" height="1" fill="#c0c0c0"/>
<rect x="181" y="699" width="1" height="3" fill="#c0c0c0"/>
<rect x="189" y="699" width="1" height="3" fill="#c0c0c0"/>
<rect x="197" y="699" width="1" height="5" fill="#c0c0c0"/>
<rect x="205" y="699" width="1" height="5" fill="#c0c0c0"/>
<rect x="213" y="699" width="1" height="5" fill="#c0c0c0"/>
<rect x="221" y="699" width="1" height="5" fill="#c0c0c0"/>
<rect x="229" y="699" width="1" height="5" fill="#c0c0c0"/>
<rect x="237" y="699" width="1" height="5" fill="#c0c0c0"/>
<rect x="245" y="699" width="1" height="5" fill="#c0c0c0"/>
<rect x="253" y="699" width="1" height="5" fill="#c0c0c0"/>
<rect x="261" y="699" width="1" height="5" fill="#c0c0c0"/>
<rect x="269" y="699" width="1" height="6" fill="#c0c0c0"/>
<rect x="277" y="699" width="1" height="8" fill="#c0c0c0"/>
<rect x="285" y="699" width="1" height="10" fill="#c0c0c0"/>
<rect x="293" y="699" width="1" height="11" fill="#c0c0c0"/>
<rect x="301" y="699" width="1" height="12" fill="#c0c0c0"/>
<rect x="309" y="699" width="1" height="13" fill="#c0c0c0"/>
<rect x="317" y="699" width="1" height="13" fill="#c0c0c0"/>
<rect x="325" y="699" width="1" height="13" fill="#c0c0c0"/>
<rect x="333" y="699" width="1" height="13" fill="#c0c0c0"/>
<rect x="341" y="699" width="1" height="13" fill="#c0c0c0"/>
<rect x="349" y="699" width="1" height="10" fill="#c0c0c0"/>
<rect x="357" y="699" width="1" height="9" fill="#c0c0c0"/>
<rect x="365" y="699" width="1" height="8" fill="#c0c0c0"/>
<rect x="373" y="699" width="1" height="7" fill="#c0c0c0"/>
<rect x="381" y="699" width="1" height="6" fill="#c0c0c0"/>
<rect x="389" y="699" width="1" height="6" fill="#c0c0c0"/>
<rect x="397" y="699" width="1" height="4" fill="#c0c0c0"/>
<rect x="405" y="699" width="1" height="4" fill="#c0c0c0"/>
<rect x="413" y="699" width="1" height="3" fill="#c0c0c0"/>
<rect x="421" y="699" width="1" height="3" fill="#c0c0c0"/>
<rect x="429" y="699" width="1" height="3" fill="#c0c0c0"/>
<rect x="437" y="699" width="1" height="2" fill="#c0c0c0"/>
<rect x="461" y="698" width="1" height="2" fill="#c0c0c0"/>
<rect x="469" y="697" width="1" height="3" fill="#c0c0c0"/>
<rect x="477" y="696" width="1" height="4" fill="#c0c0c0"/>
<rect x="485" y="694" width="1" height="6" fill="#c0c0c0"/>
<rect x="493" y="693" width="1" height="7" fill="#c0c0c0"/>
<rect x="501" y="692" width="1" height="8" fill="#c0c0c0"/>
<rect x="509" y="691" width="1" height="9" fill="#c0c0c0"/>
<rect x="517" y="690" width="1" height="10" fill="#c0c0c0"/>
<rect x="525" y="689" width="1" height="11" fill="#c0c0c0"/>
<rect x="533" y="688" width="1" height="12" fill="#c0c0c0"/>
<rect x="541" y="688" width="1" height="12" fill="#c0c0c0"/>
<rect x="549" y="687" width="1" height="13" fill="#c0c0c0"/>
<rect x="557" y="687" width="1" height="13" fill="#c0c0c0"/>
<rect x="565" y="687" width="1" height="13" fill="#c0c0c0"/>
<rect x="573" y="686" width="1" height="14" fill="#c0c0c0"/>
<rect x="581" y="687" width="1" height="13" fill="#c0c0c0"/>
<rect x="589" y="689" width="1" height="11" fill="#c0c0c0"/>
<rect x="597" y="690" width="1" height="10" fill="#c0c0c0"/>
<rect x="605" y="691" width="1" height="9" fill="#c0c0c0"/>
<rect x="613" y="692" width="1" height="8" fill="#c0c0c0"/>
<rect x="621" y="692" width="1" height="8" fill="#c0c0c0"/>
<rect x="629" y="693" width="1" height="7" fill="#c0c0c0"/>
<rect x="637" y="694" width="1" height="6" fill="#c0c0c0"/>
<rect x="645" y="695" width="1" height="5" fill="#c0c0c0"/>
<rect x="653" y="696" width="1" height="4" fill="#c0c0c0"/>
<rect x="661" y="696" width="1" height="4" fill="#c0c0c0"/>
<rect x="669" y="694" width="1" height="6" fill="#c0c0c0"/>
<rect x="677" y="694" width="1" height="6" fill="#c0c0c0"/>
<rect x="685" y="693" width="1" height="7" fill="#c0c0c0"/>
<rect x="693" y="691" width="1" height="9" fill="#c0c0c0"/>
<rect x="701" y="690" width="1" height="10" fill="#c0c0c0"/>
<rect x="709" y="689" width="1" height="11" fill="#c0c0c0"/>
<rect x="717" y="690" width="1" height="10" fill="#c0c0c0"/>
<rect x="725" y="689" width="1" height="11" fill="#c0c0c0"/>
<rect x="733" y="689" width="1" height="11" fill="#c0c0c0"/>
<rect x="741" y="688" width="1" height="12" fill="#c0c0c0"/>
<rect x="749" y="688" width="1" height="12" fill="#c0c0c0"/>
<rect x="757" y="686" width="1" height="14" fill="#c0c0c0"/>
<rect x="765" y="680" width="1" height="20" fill="#c0c0c0"/>
<rect x="773" y="676" width="1" height="24" fill="#c0c0c0"/>
<rect x="781" y="672" width="1" height="28" fill="#c0c0c0"/>
<rect x="789" y="666" width="1" height="34" fill="#c0c0c0"/>
<rect x="797" y="663" width="1" height="37" fill="#c0c0c0"/>
<rect x="805" y="660" width="1" height="40" fill="#c0c0c0"/>
<rect x="813" y="655" width="1" height="45" fill="#c0c0c0"/>
<rect x="821" y="645" width="1" height="55" fill="#c0c0c0"/>
<rect x="829" y="639" width="1" height="61" fill="#c0c0c0"/>
<rect x="837" y="637" width="1" height="63" fill="#c0c0c0"/>
<rect x="845" y="635" width="1" height="65" fill="#c0c0c0"/>
<rect x="853" y="632" width="1" height="68" fill="#c0c0c0"/>
<rect x="861" y="632" width="1" height="68" fill="#c0c0c0"/>
<rect x="869" y="635" width="1" height="65" fill="#c0c0c0"/>
<rect x="877" y="643" width="1" height="57" fill="#c0c0c0"/>
<rect x="885" y="649" width="1" height="51" fill="#c0c0c0"/>
<rect x="893" y="657" width="1" height="43" fill="#c0c0c0"/>
<rect x="901" y="660" width="1" height="40" fill="#c0c0c0"/>
<rect x="909" y="664" width="1" height="36" fill="#c0c0c0"/>
<rect x="917" y="665" width="1" height="35" fill="#c0c0c0"/>
<rect x="925" y="668" width="1" height="32" fill="#c0c0c0"/>
<rect x="933" y="671" width="1" height="29" fill="#c0c0c0"/>
<rect x="941" y="673" width="1" height="27" fill="#c0c0c0"/>
<rect x="949" y="675" width="1" height="25" fill="#c0c0c0"/>
<rect x="957" y="680" width="1" height="20" fill="#c0c0c0"/>
<rect x="965" y="684" width="1" height="16" fill="#c0c0c0"/>
<rect x="973" y="687" width="1" height="13" fill="#c0c0c0"/>
<rect x="981" y="690" width="1" height="10" fill="#c0c0c0"/>
<rect x="989" y="693" width="1" height="7" fill="#c0c0c0"/>
<rect x="997" y="695" width="1" height="5" fill="#c0c0c0"/>
<rect x="1005" y="697" width="1" height="3" fill="#c0c0c0"/>
<rect x="1013" y="696" width="1" height="4" fill="#c0c0c0"/>
<rect x="1021" y="694" width="1" height="6" fill="#c0c0c0"/>
<rect x="1029" y="695" width="1" height="5" fill="#c0c0c0"/>
<rect x="1037" y="696" width="1" height="4" fill="#c0c0c0"/>
<rect x="1045" y="696" width="1" height="4" fill="#c0c0c0"/>
<rect x="1053" y="693" width="1" height="7" fill="#c0c0c0"/>
<rect x="1061" y="692" width="1" height="8" fill="#c0c0c0"/>
<rect x="1069" y="694" width="1" height="6" fill="#c0c0c0"/>
<rect x="1077" y="694" width="1" height="6" fill="#c0c0c0"/>
<rect x="1085" y="694" width="1" height="6" fill="#c0c0c0"/>
<rect x="1093" y="695" width="1" height="5" fill="#c0c0c0"/>
<rect x="1101" y="697" width="1" height="3" fill="#c0c0c0"/>
<rect x="1109" y="698" width="1" height="2" fill="#c0c0c0"/>
<rect x="1117" y="698" width="1" height="2" fill="#c0c0c0"/>
<rect x="1133" y="698" width="1" height="2" fill="#c0c0c0"/>
<rect x="1141" y="698" width="1" height="2" fill="#c0c0c0"/>
<rect x="1149" y="698" width="1" height="2" fill="#c0c0c0"/>
<rect x="1157" y="697" width="1" height="3" fill="#c0c0c0"/>
<rect x="1181" y="699" width="1" height="3" fill="#c0c0c0"/>
<rect x="1197" y="699" width="1" height="2" fill="#c0c0c0"/>
<polyline points="5.5,695.4 13.5,695.3 21.5,694.4 29.5,694.4 37.5,694.3 45.5,693.3 53.5,693.2 61.5,692.3 69.5,692.3 77.5,692.3 85.5,692.3 93.5,692.3 101.5,692.5 109.5,693.3 117.5,693.4 125.5,694.4 133.5,694.6 141.5,695.1 149.5,695.4 157.5,696.6 165.5,697.3 173.5,698.3 181.5,698.5 189.5,699.4 197.5,700.3 205.5,701.6 213.5,702.3 221.5,702.8 229.5,703.4 237.5,703.4 245.5,703.4 253.5,704.3 261.5,704.5 269.5,704.6 277.5,705.5 285.5,705.9 293.5,706.5 301.5,707.1 309.5,708.7 317.5,709.2 325.5,709.7 333.5,710.8 341.5,711.0 349.5,711.1 357.5,711.3 365.5,710.5 373.5,710.1 381.5,709.7 389.5,708.6 397.5,707.6 405.5,706.6 413.5,705.7 421.5,704.9 429.5,704.4 437.5,704.0 445.5,703.3 453.5,702.4 461.5,701.4 469.5,700.5 477.5,699.6 485.5,698.7 493.5,697.5 501.5,696.3 509.5,695.0 517.5,693.8 525.5,692.4 533.5,691.3 541.5,690.8 549.5,690.3 557.5,688.7 565.5,687.6 573.5,687.3 581.5,687.3 589.5,687.3 597.5,687.3 605.5,687.3 613.5,687.8 621.5,688.5 629.5,689.4 637.5,690.2 645.5,691.6 653.5,691.9 661.5,692.2 669.5,693.2 677.5,693.2 685.5,693.2 693.5,693.2 701.5,693.2 709.5,692.9 717.5,692.4 725.5,691.0 733.5,690.4 741.5,689.9 749.5,688.4 757.5,687.3 765.5,686.5 773.5,685.2 781.5,683.3 789.5,680.5 797.5,678.2 805.5,675.4 813.5,671.6 821.5,666.3 829.5,661.3 837.5,656.5 845.5,651.6 853.5,646.9 861.5,643.3 869.5,640.2 877.5,638.1 885.5,637.8 893.5,639.4 901.5,641.8 909.5,644.0 917.5,647.0 925.5,651.9 933.5,656.0 941.5,660.7 949.5,664.6 957.5,667.7 965.5,670.2 973.5,673.4 981.5,676.5 989.5,679.8 997.5,683.0 1005.5,686.3 1013.5,688.2 1021.5,690.2 1029.5,691.7 1037.5,693.4 1045.5,693.7 1053.5,694.0 1061.5,693.8 1069.5,693.6 1077.5,693.4 1085.5,693.4 1093.5,693.3 1101.5,693.2 1109.5,693.7 1117.5,694.4 1125.5,695.1 1133.5,695.8 1141.5,696.5 1149.5,697.3 1157.5,697.8 1165.5,698.4 1173.5,698.9 1181.5,699.3 1189.5,699.3 1197.5,699.3 1205.5,699.3" fill="none" stroke="#ff0000" stroke-width="1" stroke-dasharray="3 3"/>
</g>
<text x="9" y="639" font-size="10" fill="#000" letter-spacing="-0.3">MACD(12,26,9) -0.000685 -0.000326</text>
<rect x="1521" y="627" width="2" height="1" fill="#000"/>
<rect x="1521" y="699" width="2" height="1" fill="#000"/>
<text x="1524" y="636" font-size="10" fill="#000" letter-spacing="-0.56">0.032493</text>
<text x="1524" y="703" font-size="10" fill="#000" letter-spacing="-0.56">0.00</text>
<text x="1523" y="714" font-size="10" fill="#000" letter-spacing="-0.2">-0.008086</text>
<rect x="5" y="718" width="1" height="3" fill="#000"/>
<text x="4" y="731" font-size="10" fill="#000" letter-spacing="-0.3">20 Nov 2019</text>
<rect x="69" y="718" width="1" height="3" fill="#000"/>
<text x="68" y="731" font-size="10" fill="#000" letter-spacing="-0.3">29 Nov 2019</text>
<rect x="133" y="718" width="1" height="3" fill="#000"/>
<text x="132" y="731" font-size="10" fill="#000" letter-spacing="-0.3">9 Dec 2019</text>
<rect x="197" y="718" width="1" height="3" fill="#000"/>
<text x="196" y="731" font-size="10" fill="#000" letter-spacing="-0.3">18 Dec 2019</text>
<rect x="261" y="718" width="1" height="3" fill="#000"/>
<text x="260" y="731" font-size="10" fill="#000" letter-spacing="-0.3">27 Dec 2019</text>
<rect x="325" y="718" width="1" height="3" fill="#000"/>
<text x="324" y="731" font-size="10" fill="#000" letter-spacing="-0.3">6 Jan 2020</text>
<rect x="389" y="718" width="1" height="3" fill="#000"/>
<text x="388" y="731" font-size="10" fill="#000" letter-spacing="-0.3">15 Jan 2020</text>
<rect x="453" y="718" width="1" height="3" fill="#000"/>
<text x="452" y="731" font-size="10" fill="#000" letter-spacing="-0.3">24 Jan 2020</text>
<rect x="517" y="718" width="1" height="3" fill="#000"/>
<text x="516" y="731" font-size="10" fill="#000" letter-spacing="-0.3">3 Feb 2020</text>
<rect x="581" y="718" width="1" height="3" fill="#000"/>
<text x="580" y="731" font-size="10" fill="#000" letter-spacing="-0.3">12 Feb 2020</text>
<rect x="645" y="718" width="1" height="3" fill="#000"/>
<text x="644" y="731" font-size="10" fill="#000" letter-spacing="-0.3">21 Feb 2020</text>
<rect x="709" y="718" width="1" height="3" fill="#000"/>
<text x="708" y="731" font-size="10" fill="#000" letter-spacing="-0.3">2 Mar 2020</text>
<rect x="773" y="718" width="1" height="3" fill="#000"/>
<text x="772" y="731" font-size="10" fill="#000" letter-spacing="-0.3">11 Mar 2020</text>
<rect x="837" y="718" width="1" height="3" fill="#000"/>
<text x="836" y="731" font-size="10" fill="#000" letter-spacing="-0.3">20 Mar 2020</text>
<rect x="901" y="718" width="1" height="3" fill="#000"/>
<text x="900" y="731" font-size="10" fill="#000" letter-spacing="-0.3">30 Mar 2020</text>
<rect x="965" y="718" width="1" height="3" fill="#000"/>
<text x="964" y="731" font-size="10" fill="#000" letter-spacing="-0.3">8 Apr 2020</text>
<rect x="1029" y="718" width="1" height="3" fill="#000"/>
<text x="1028" y="731" font-size="10" fill="#000" letter-spacing="-0.3">17 Apr 2020</text>
<rect x="1093" y="718" width="1" height="3" fill="#000"/>
<text x="1092" y="731" font-size="10" fill="#000" letter-spacing="-0.3">27 Apr 2020</text>
<rect x="1157" y="718" width="1" height="3" fill="#000"/>
<text x="1156" y="731" font-size="10" fill="#000" letter-spacing="-0.3">6 May 2020</text>
</svg>
<div class="tb" style="left:-6px;letter-spacing:0">M5</div>
<div class="tb" style="left:22px;letter-spacing:-0.5px">M15</div>
<div class="tb" style="left:50px;letter-spacing:-0.5px">M30</div>
<div class="tb" style="left:81px;letter-spacing:0">H1</div>
<div class="tb" style="left:108px;letter-spacing:0">H4</div>
<div class="tb" style="left:137px;letter-spacing:0">D1</div>
<div class="tb" style="left:164px;letter-spacing:0">W1</div>
<div class="tb" style="left:191px;letter-spacing:0">MN</div>
<div class="tab" style="left:18px">EURUSD,Daily</div>
<div class="tab" style="left:120px">USDCHF,Daily</div>
<div class="tab" style="left:221px">AUDUSD,Daily</div>
<div class="tab" style="left:325px;color:#000">USDCAD,Daily</div>
<div class="tab" style="left:428px">USDCNH,Daily</div>
<div class="tab" style="left:534px">EURUSD,Daily</div>
<div class="tab" style="left:637px">GBPUSD,H4</div>
<div class="tab" style="left:729px">XAUUSD,H4</div>
<div class="tab" style="left:821px">HK50,H1</div>
<div class="tab" style="left:893px">UK100,H1</div>
<div class="tab" style="left:973px">UK100,H1</div>
<div class="tab" style="left:1053px">GER30,H1</div>
<div class="tab" style="left:1132px">FRA40,H1</div>
<div class="tab" style="left:1208px">USOil,H1</div>
<div class="tab" style="left:1280px">USDJPY,H1</div>
<div class="tab" style="left:1364px">DJ30,H1</div>
</div></body></html>
